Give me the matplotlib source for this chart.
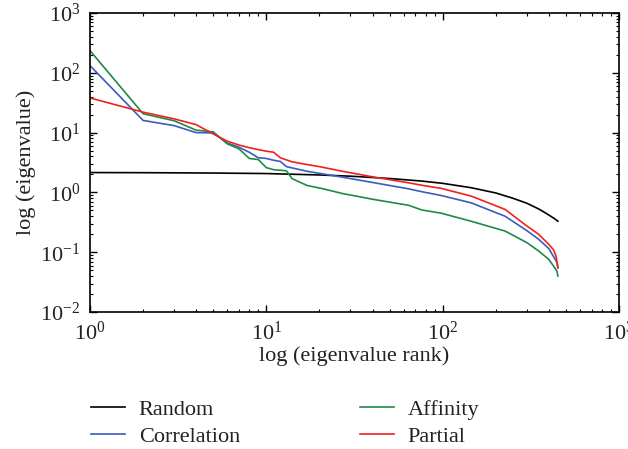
"""Eigenvalue spectra on log-log axes: random vs. three network estimators."""

import matplotlib
matplotlib.use("Agg")
import matplotlib.pyplot as plt
from matplotlib.ticker import LogLocator, NullFormatter

plt.rcParams["font.family"] = ["Liberation Serif", "DejaVu Serif"]
plt.rcParams["mathtext.fontset"] = "custom"
plt.rcParams["mathtext.rm"] = "Liberation Serif"
plt.rcParams["mathtext.it"] = "Liberation Serif:italic"

# eigenvalues at a set of ranks
random_rank = [1, 2, 5, 10, 20, 30, 50, 76, 100, 145, 200, 250, 300, 350, 380, 410,
               430, 445, 450]
random_vals = [2.15, 2.14, 2.11, 2.07, 1.96, 1.87, 1.71, 1.55, 1.42, 1.2, 0.98, 0.8,
               0.66, 0.53, 0.46, 0.4, 0.365, 0.34, 0.33]

corr_rank = [1, 2, 3, 4, 5, 6, 7, 8, 9, 10, 11, 12, 13, 17, 27, 41, 64, 76, 98, 145,
             226, 300, 350, 400, 430, 445, 450]
corr_vals = [132, 16, 13.1, 10, 9.9, 6.7, 5.7, 4.7, 3.8, 3.7, 3.45, 3.3, 2.7, 2.26,
             1.8, 1.45, 1.15, 1.03, 0.89, 0.67, 0.4, 0.23, 0.165, 0.115, 0.08, 0.068,
             0.055]

aff_rank = [1, 2, 3, 4, 5, 6, 7, 8, 9, 10, 11, 12, 13, 14, 17, 21, 27, 41, 64, 76, 98,
            145, 226, 300, 350, 400, 430, 445, 450]
aff_vals = [235, 20.7, 15.8, 11, 10.3, 6.5, 5.35, 3.7, 3.55, 2.6, 2.4, 2.35, 2.3, 1.7,
            1.31, 1.15, 0.96, 0.76, 0.61, 0.51, 0.45, 0.33, 0.226, 0.145, 0.105, 0.076,
            0.056, 0.048, 0.040]

part_rank = [1, 2, 3, 4, 5, 6, 7, 8, 9, 10, 11, 12, 13, 14, 17, 20, 27, 41, 64, 76, 98,
             145, 226, 300, 350, 400, 425, 440, 450]
part_vals = [38, 22, 17, 13.6, 9.5, 7.2, 6.2, 5.6, 5.2, 4.9, 4.7, 3.8, 3.5, 3.25, 2.93,
             2.7, 2.26, 1.8, 1.45, 1.32, 1.17, 0.87, 0.52, 0.275, 0.2, 0.135, 0.11,
             0.085, 0.055]

fig = plt.figure(figsize=(6.28, 4.49), dpi=100)
ax = fig.add_axes([0.1433, 0.305, 0.8424, 0.666])

ax.plot(random_rank, random_vals, color="black", lw=1.2, label="Random")
ax.plot(corr_rank, corr_vals, color="#3a5bbf", lw=1.2, label="Correlation")
ax.plot(aff_rank, aff_vals, color="#1f8a45", lw=1.2, label="Affinity")
ax.plot(part_rank, part_vals, color="#f02020", lw=1.2, label="Partial")

ax.set_xscale("log")
ax.set_yscale("log")
ax.set_xlim(1, 1000)
ax.set_ylim(1e-2, 1e3)
ax.xaxis.set_major_locator(LogLocator(base=10, numticks=10))
ax.yaxis.set_major_locator(LogLocator(base=10, numticks=10))
ax.xaxis.set_minor_locator(LogLocator(base=10, subs=range(2, 10), numticks=20))
ax.yaxis.set_minor_locator(LogLocator(base=10, subs=range(2, 10), numticks=20))
ax.xaxis.set_minor_formatter(NullFormatter())
ax.yaxis.set_minor_formatter(NullFormatter())

ax.tick_params(which="both", direction="in", top=True, right=True, labelsize=16,
               colors="black", labelcolor="#222222")
ax.tick_params(which="major", length=5, width=1.0, pad=7)
ax.tick_params(which="minor", length=2.5, width=0.8)
for sp in ax.spines.values():
    sp.set_linewidth(1.2)

ax.set_xlabel("log (eigenvalue rank)", fontsize=16, color="#222222", labelpad=1)
ax.set_ylabel("log (eigenvalue)", fontsize=16, color="#222222", labelpad=3)

fig.legend(loc="upper left", bbox_to_anchor=(0.127, 0.135), ncol=2, frameon=False,
           fontsize=16, handlelength=1.55, handletextpad=0.6, columnspacing=5.4,
           labelspacing=0.3, borderpad=0, labelcolor="#222222")

fig.savefig("out.png", dpi=100)
